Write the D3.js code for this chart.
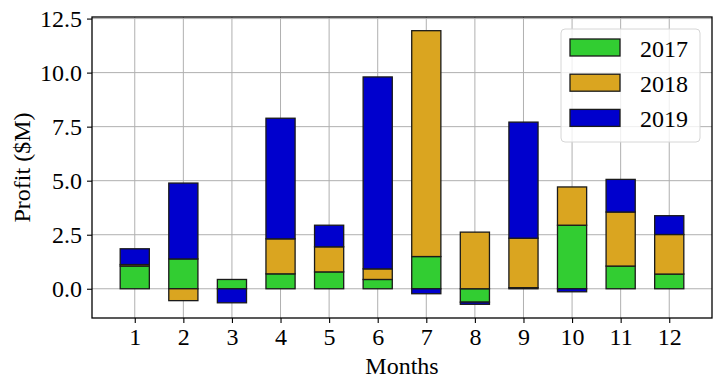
<!DOCTYPE html>
<html><head><meta charset="utf-8">
<script src="https://cdn.jsdelivr.net/npm/d3@7/dist/d3.min.js"></script>
<style>body{margin:0;background:#fff;} svg{display:block;}</style>
</head><body>
<svg id="c" width="723" height="389"></svg>
<script>
const months = [1,2,3,4,5,6,7,8,9,10,11,12];
const years = ["2017","2018","2019"];
const v2017 = [1.05, 1.38, 0.43, 0.69, 0.78, 0.43, 1.49, -0.62, 0.05, 2.94, 1.05, 0.68];
const v2018 = [0.07, -0.55, 0.00, 1.62, 1.16, 0.49, 10.45, 2.62, 2.29, 1.77, 2.50, 1.83];
const v2019 = [0.73, 3.51, -0.65, 5.58, 1.00, 8.88, -0.23, -0.10, 5.37, -0.14, 1.51, 0.87];
const yTicks = [0.0, 2.5, 5.0, 7.5, 10.0, 12.5];
const colors = ["#32CD32", "#DAA520", "#0000CD"];

const font = "'Liberation Serif','Times New Roman',Times,serif";
const svg = d3.select("#c");
const L = 92, R = 712, T = 17, B = 318;
const barW = 0.6;

const rows = months.map((m, i) => ({month: m, "2017": v2017[i], "2018": v2018[i], "2019": v2019[i]}));
const series = d3.stack().keys(years).offset(d3.stackOffsetDiverging)(rows);

const yMin = d3.min(series, s => d3.min(s, d => d[0]));
const yMax = d3.max(series, s => d3.max(s, d => d[1]));
const ym = (yMax - yMin) * 0.05;
const y = d3.scaleLinear().domain([yMin - ym, yMax + ym]).range([B, T]);
const xLo = d3.min(months) - barW / 2, xHi = d3.max(months) + barW / 2;
const xm = (xHi - xLo) * 0.05;
const x = d3.scaleLinear().domain([xLo - xm, xHi + xm]).range([L, R]);

// grid
const g = svg.append("g");
g.selectAll("line.gy").data(yTicks).join("line")
  .attr("x1", L).attr("x2", R).attr("y1", d => y(d)).attr("y2", d => y(d))
  .attr("stroke", "#b0b0b0").attr("stroke-width", 1);
g.selectAll("line.gx").data(months).join("line")
  .attr("y1", T).attr("y2", B).attr("x1", d => x(d)).attr("x2", d => x(d))
  .attr("stroke", "#b0b0b0").attr("stroke-width", 1);

// bars
const pw = x(barW) - x(0);
svg.append("g").selectAll("g").data(series).join("g")
  .attr("fill", (d, i) => colors[i])
  .selectAll("rect").data(d => d).join("rect")
  .attr("x", d => x(d.data.month) - pw / 2)
  .attr("width", pw)
  .attr("y", d => y(Math.max(d[0], d[1])))
  .attr("height", d => Math.abs(y(d[0]) - y(d[1])))
  .attr("stroke", "#1a1a1a").attr("stroke-width", 1.3);

// frame
svg.append("rect").attr("x", L).attr("y", T).attr("width", R - L).attr("height", B - T)
  .attr("fill", "none").attr("stroke", "#000").attr("stroke-width", 1.3);

// axes
const ya = svg.append("g").attr("transform", `translate(${L},0)`)
  .call(d3.axisLeft(y).tickValues(yTicks).tickFormat(d3.format(".1f")).tickSize(5).tickPadding(5));
const xa = svg.append("g").attr("transform", `translate(0,${B})`)
  .call(d3.axisBottom(x).tickValues(months).tickFormat(d3.format("d")).tickSize(5).tickPadding(5));
[ya, xa].forEach(a => {
  a.select(".domain").remove();
  a.selectAll("line").attr("stroke", "#000").attr("stroke-width", 1.1);
  a.selectAll("text").attr("font-family", font).attr("font-size", 24).attr("fill", "#000");
});

// axis labels
svg.append("text").attr("x", (L + R) / 2).attr("y", 374).attr("text-anchor", "middle")
  .attr("font-family", font).attr("font-size", 24).text("Months");
svg.append("text").attr("transform", `translate(30,${(T + B) / 2}) rotate(-90)`)
  .attr("text-anchor", "middle").attr("font-family", font).attr("font-size", 24).text("Profit ($M)");

// legend
const lg = svg.append("g");
lg.append("rect").attr("x", 561).attr("y", 29).attr("width", 139).attr("height", 113)
  .attr("rx", 4).attr("fill", "#fff").attr("fill-opacity", 0.8)
  .attr("stroke", "#d6d6d6").attr("stroke-width", 1);
years.forEach((yr, i) => {
  const cy = 47.5 + i * 35.2;
  lg.append("rect").attr("x", 570).attr("y", cy - 8.5).attr("width", 50).attr("height", 17)
    .attr("fill", colors[i]).attr("stroke", "#1a1a1a").attr("stroke-width", 1.3);
  lg.append("text").attr("x", 640).attr("y", cy + 9).attr("font-family", font)
    .attr("font-size", 24).text(yr);
});
</script>
</body></html>
